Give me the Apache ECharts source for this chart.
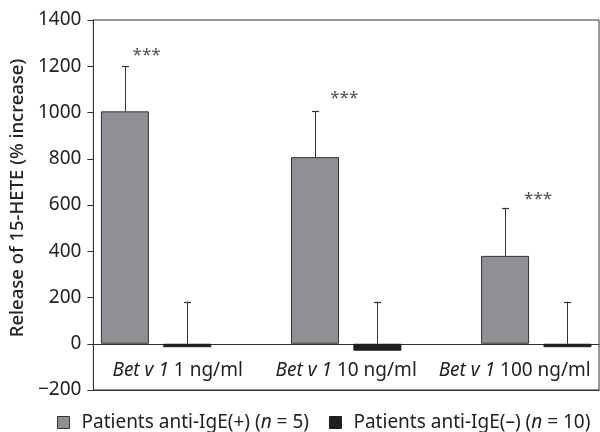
<!DOCTYPE html>
<html>
<head>
<meta charset="utf-8">
<script src="https://cdn.jsdelivr.net/npm/echarts@6/dist/echarts.min.js"></script>
<style>html,body{margin:0;padding:0;background:#fff}#c{width:600px;height:432px}</style>
</head>
<body>
<div id="c"></div>
<script>
// ---- data ----
var categories = ['1 ng/ml', '10 ng/ml', '100 ng/ml'];
var groupPos = [0, 1, 2];
var seriesNames = ['Patients anti-IgE(+) (n = 5)', 'Patients anti-IgE(–) (n = 10)'];
var posMeans = [1005, 807, 380];
var posErrTop = [1200, 1005, 585];
var negMeans = [-15, -30, -15];
var negErrTop = [182, 182, 182];
var starLabels = ['***', '***', '***'];
var starX = [-0.05, -0.01, 0.01];
var starY = [1250, 1060, 625];
var yTicks = [-200, 0, 200, 400, 600, 800, 1000, 1200, 1400];

// ---- style ----
var FONT = 'Noto Sans';
var BAR_W = 48;
var GAP_RATIO = 0.3;
var OFFSET = (BAR_W + BAR_W * GAP_RATIO) / 2;
var AXIS_C = '#333';
var TXT = '#222';

var chart = echarts.init(document.getElementById('c'));

function errSeries(means, tops, dir) {
  return {
    type: 'custom',
    xAxisIndex: 1,
    silent: true,
    z: 5,
    data: groupPos.map(function (p, i) { return [p, Math.max(means[i], 0), tops[i]]; }),
    renderItem: function (params, api) {
      var a = api.coord([api.value(0), api.value(1)]);
      var b = api.coord([api.value(0), api.value(2)]);
      var x = Math.round(a[0] + dir * OFFSET) + 0.5;
      return {
        type: 'group',
        children: [
          { type: 'line', shape: { x1: x, y1: a[1], x2: x, y2: b[1] }, style: { stroke: AXIS_C, lineWidth: 1 } },
          { type: 'line', shape: { x1: x - 3.5, y1: Math.round(b[1]) + 0.5, x2: x + 3.5, y2: Math.round(b[1]) + 0.5 }, style: { stroke: AXIS_C, lineWidth: 1.2 } }
        ]
      };
    }
  };
}

var option = {
  animation: false,
  textStyle: { fontFamily: FONT },
  grid: { left: 92, right: 1, top: 20, bottom: 42, show: true, borderColor: AXIS_C, borderWidth: 1, backgroundColor: 'transparent' },
  legend: {
    top: 408,
    left: 52,
    itemWidth: 12,
    itemHeight: 12,
    itemGap: 20,
    icon: 'rect',
    data: [
      { name: seriesNames[0], itemStyle: { color: '#8f9094', borderColor: '#333', borderWidth: 1 } },
      { name: seriesNames[1], itemStyle: { color: '#1f1f1f', borderColor: '#1f1f1f', borderWidth: 1 } }
    ],
    formatter: function (n) { return n.replace('(n =', '({i|n} ='); },
    textStyle: {
      fontFamily: FONT, fontSize: 19, color: TXT, padding: [0, 0, 0, 7],
      rich: { i: { fontFamily: FONT, fontSize: 19, fontStyle: 'italic', color: TXT } }
    }
  },
  xAxis: [
    {
      type: 'category',
      data: categories,
      position: 'bottom',
      axisLine: { show: true, onZero: false, lineStyle: { color: AXIS_C } },
      axisTick: { show: false },
      axisLabel: {
        inside: true,
        interval: 0,
        hideOverlap: false,
        margin: 10,
        color: TXT,
        fontSize: 19,
        fontFamily: FONT,
        formatter: function (v) { return '{it|Bet v 1} ' + v; },
        rich: { it: { fontStyle: 'italic', fontSize: 19, fontFamily: FONT, color: TXT } }
      },
      splitLine: { show: false }
    },
    {
      type: 'value',
      min: -0.33,
      max: 2.33,
      position: 'bottom',
      axisLine: { show: true, onZero: true, lineStyle: { color: AXIS_C } },
      axisTick: { show: false },
      axisLabel: { show: false },
      splitLine: { show: false }
    }
  ],
  yAxis: {
    type: 'value',
    min: yTicks[0],
    max: yTicks[yTicks.length - 1],
    interval: 200,
    name: 'Release of 15-HETE (% increase)',
    nameLocation: 'middle',
    nameGap: 55,
    nameTextStyle: { fontFamily: FONT, fontSize: 18.5, fontWeight: 500, color: TXT, padding: [0, 0, 0, 14] },
    axisLine: { show: true, onZero: false, lineStyle: { color: AXIS_C } },
    axisTick: { show: true, length: 6, lineStyle: { color: AXIS_C } },
    axisLabel: { margin: 12, fontSize: 19, color: TXT, fontFamily: FONT, formatter: function (v) { return v < 0 ? '\u2212' + Math.abs(v) : '' + v; } },
    splitLine: { show: false }
  },
  series: [
    {
      name: seriesNames[0],
      type: 'bar',
      xAxisIndex: 1,
      barWidth: BAR_W,
      barGap: (GAP_RATIO * 100) + '%',
      itemStyle: { color: '#8f9094', borderColor: '#333', borderWidth: 1 },
      data: groupPos.map(function (p, i) { return [p, posMeans[i]]; })
    },
    {
      name: seriesNames[1],
      type: 'bar',
      xAxisIndex: 1,
      barWidth: BAR_W,
      barGap: (GAP_RATIO * 100) + '%',
      itemStyle: { color: '#1f1f1f', borderColor: '#1f1f1f', borderWidth: 1 },
      data: groupPos.map(function (p, i) { return [p, negMeans[i]]; })
    },
    errSeries(posMeans, posErrTop, -1),
    errSeries(negMeans, negErrTop, 1),
    {
      type: 'scatter',
      xAxisIndex: 1,
      symbolSize: 0,
      silent: true,
      data: groupPos.map(function (p, i) { return { value: [p + starX[i], starY[i]], label: { formatter: starLabels[i] } }; }),
      label: { show: true, position: 'inside', fontSize: 17, color: TXT, fontFamily: FONT }
    }
  ]
};
chart.setOption(option);
</script>
</body>
</html>
